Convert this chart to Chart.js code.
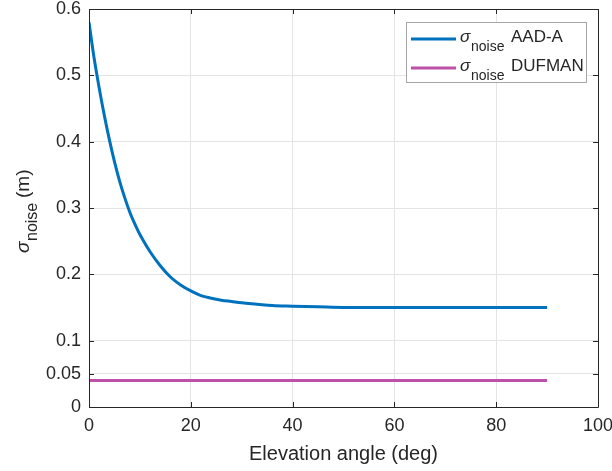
<!DOCTYPE html>
<html>
<head>
<meta charset="utf-8">
<script src="https://cdn.jsdelivr.net/npm/chart.js@4.4.1/dist/chart.umd.min.js"></script>
<style>
html,body{margin:0;padding:0;background:#fff;}
#wrap{width:612px;height:471px;position:relative;}
</style>
</head>
<body>
<div id="wrap"><canvas id="c" width="612" height="471"></canvas></div>
<script>
// ---- data ----
const elevation = [0, 1, 2, 3, 4, 5, 6, 7, 8, 9, 10, 12, 14, 16, 18, 20, 22, 24, 26, 28, 30, 33, 36, 40, 45, 50, 60, 70, 80, 90];
const sigmaAADA = [0.580, 0.526, 0.481, 0.440, 0.403, 0.370, 0.341, 0.316, 0.294, 0.276, 0.260, 0.234, 0.213, 0.196, 0.184, 0.175, 0.168, 0.164, 0.161, 0.159, 0.157, 0.155, 0.153, 0.152, 0.151, 0.150, 0.150, 0.150, 0.150, 0.150];
const elevationDUFMAN = [0, 90];
const sigmaDUFMAN = [0.04, 0.04];
const xTicks = [0, 20, 40, 60, 80, 100];
const yTicks = [0, 0.05, 0.1, 0.2, 0.3, 0.4, 0.5, 0.6];
const seriesNames = ['AAD-A', 'DUFMAN'];
const xTitle = 'Elevation angle (deg)';

const BLUE = 'rgb(0,114,189)';
const PURPLE = 'rgb(190,80,168)';
const TXT = '#262626';
const FONT = '"Liberation Sans", Arial, sans-serif';

const toXY = (xs, ys) => xs.map((x, i) => ({x: x, y: ys[i]}));

const boxPlugin = {
  id: 'matlabBox',
  afterDatasetsDraw(chart) {
    const {ctx, chartArea: a, scales: {x, y}} = chart;
    ctx.save();
    ctx.strokeStyle = TXT;
    ctx.lineWidth = 1;
    const tl = 5;
    ctx.beginPath();
    xTicks.forEach(v => {
      const px = Math.round(x.getPixelForValue(v)) + 0.5;
      ctx.moveTo(px, a.bottom); ctx.lineTo(px, a.bottom - tl);
      ctx.moveTo(px, a.top); ctx.lineTo(px, a.top + tl);
    });
    yTicks.forEach(v => {
      const py = Math.round(y.getPixelForValue(v)) + 0.5;
      ctx.moveTo(a.left, py); ctx.lineTo(a.left + tl, py);
      ctx.moveTo(a.right, py); ctx.lineTo(a.right - tl, py);
    });
    ctx.stroke();
    ctx.beginPath();
    ctx.rect(Math.round(a.left) + 0.5, Math.round(a.top) + 0.5, Math.round(a.right - a.left), Math.round(a.bottom - a.top));
    ctx.stroke();
    ctx.restore();
  },
  afterDraw(chart) {
    const {ctx} = chart;
    ctx.save();
    // ---- legend ----
    const lx = 406, ly = 22, lw = 180, lh = 60;
    ctx.fillStyle = '#fff';
    ctx.fillRect(lx, ly, lw, lh);
    ctx.strokeStyle = '#a6a6a6';
    ctx.lineWidth = 1;
    ctx.strokeRect(lx + 0.5, ly + 0.5, lw, lh);
    chart.data.datasets.forEach((ds, i) => {
      const cy = ly + 17 + i * 29;
      ctx.strokeStyle = ds.borderColor;
      ctx.lineWidth = 3;
      ctx.beginPath();
      ctx.moveTo(411, cy); ctx.lineTo(456, cy);
      ctx.stroke();
      ctx.fillStyle = TXT;
      ctx.textBaseline = 'alphabetic';
      ctx.textAlign = 'left';
      ctx.font = 'italic 17px ' + FONT;
      ctx.fillText('σ', 460, cy + 3);
      ctx.font = '14px ' + FONT;
      ctx.fillText('noise', 471, cy + 12);
      ctx.font = '17px ' + FONT;
      ctx.fillText(seriesNames[i], 511, cy + 3);
    });
    // ---- y axis title with subscript ----
    ctx.translate(29, 253);
    ctx.rotate(-Math.PI / 2);
    ctx.fillStyle = TXT;
    ctx.textAlign = 'left';
    ctx.textBaseline = 'alphabetic';
    ctx.font = 'italic 19px ' + FONT;
    ctx.fillText('σ', 0, 0);
    ctx.font = '16px ' + FONT;
    ctx.fillText('noise', 12, 8);
    ctx.font = '19px ' + FONT;
    ctx.fillText('(m)', 55, 0);
    ctx.restore();
  }
};

new Chart(document.getElementById('c'), {
  type: 'line',
  data: {
    datasets: [
      {label: seriesNames[0], data: toXY(elevation, sigmaAADA), borderColor: BLUE, borderWidth: 3, pointRadius: 0, tension: 0.35, fill: false},
      {label: seriesNames[1], data: toXY(elevationDUFMAN, sigmaDUFMAN), borderColor: PURPLE, borderWidth: 3, pointRadius: 0, fill: false}
    ]
  },
  options: {
    responsive: false,
    animation: false,
    events: [],
    layout: {padding: {top: 9, right: 14, left: 0, bottom: 0}},
    plugins: {legend: {display: false}, tooltip: {enabled: false}},
    scales: {
      x: {
        type: 'linear', min: 0, max: 100,
        afterBuildTicks: s => { s.ticks = xTicks.map(v => ({value: v})); },
        afterFit: s => { s.height = 64; s.paddingLeft = 0; s.paddingRight = 0; },
        grid: {color: 'rgb(228,228,228)', lineWidth: 1, drawTicks: false},
        border: {display: false},
        ticks: {color: TXT, font: {family: FONT, size: 18}, padding: 8, maxRotation: 0, autoSkip: false,
                callback: v => String(v)},
        title: {display: true, text: xTitle, color: TXT, font: {family: FONT, size: 20}, padding: {top: 4, bottom: 5}}
      },
      y: {
        type: 'linear', min: 0, max: 0.6,
        afterBuildTicks: s => { s.ticks = yTicks.map(v => ({value: v})); },
        afterFit: s => { s.width = 89; s.paddingTop = 0; s.paddingBottom = 0; },
        grid: {color: 'rgb(228,228,228)', lineWidth: 1, drawTicks: false},
        border: {display: false},
        ticks: {color: TXT, font: {family: FONT, size: 18}, padding: 8, autoSkip: false,
                callback: v => String(v)}
      }
    }
  },
  plugins: [boxPlugin]
});
</script>
</body>
</html>
